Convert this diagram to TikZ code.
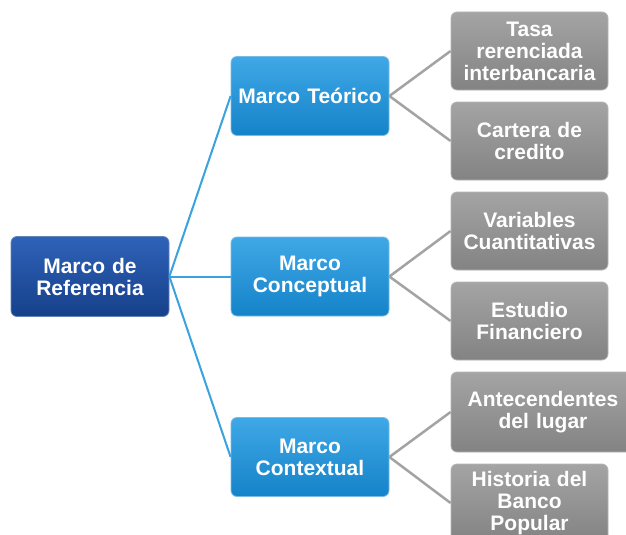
\documentclass[tikz,border=0pt]{standalone}
\usepackage{fontspec}
\setmainfont{Liberation Sans}
\definecolor{rootC}{HTML}{1F4F9E}
\definecolor{rootT}{HTML}{2F62B8}
\definecolor{rootB}{HTML}{16408A}
\definecolor{midC}{HTML}{1E8FD5}
\definecolor{midT}{HTML}{3FA8E6}
\definecolor{midB}{HTML}{1583C9}
\definecolor{leafT}{HTML}{A4A4A4}
\definecolor{leafB}{HTML}{838383}
\definecolor{blueLink}{HTML}{3AA2DE}
\definecolor{grayLink}{HTML}{A3A3A3}
\tikzset{
  basebox/.style={rectangle, rounded corners=6pt, align=center, text=white,
    font=\bfseries\fontsize{21}{22}\selectfont, inner sep=0pt, line width=0.8pt},
  rootbox/.style={basebox, top color=rootT, bottom color=rootB, draw=rootC!70!white,
    minimum width=158pt, minimum height=80pt, text width=154pt},
  midbox/.style={basebox, top color=midT, bottom color=midB, draw=midC!60!white,
    minimum width=158pt, minimum height=79pt, text width=154pt},
  leafbox/.style={basebox, top color=leafT, bottom color=leafB, draw=leafB!60!white,
    minimum width=157pt, minimum height=78pt, text width=153pt},
  bluelink/.style={draw=blueLink, line width=2pt},
  graylink/.style={draw=grayLink, line width=2.5pt},
}
\begin{document}
\begin{tikzpicture}[x=1pt,y=-1pt]
\useasboundingbox (0,0) rectangle (626,535);
\clip (0,0) rectangle (626,535);
\fill[white] (0,0) rectangle (626,535);

\node[rootbox] (root) at (90,276.5) {Marco de\\Referencia};
\node[midbox] (teo) at (310,96) {Marco Teórico};
\node[midbox] (con) at (310,276.5) {Marco\\Conceptual};
\node[midbox] (ctx) at (310,457) {Marco\\Contextual};

\node[leafbox] (tasa) at (529.5,51) {Tasa\\rerenciada\\interbancaria};
\node[leafbox] (cart) at (529.5,141) {Cartera de\\credito};
\node[leafbox] (vari) at (529.5,231) {Variables\\Cuantitativas};
\node[leafbox] (estu) at (529.5,321) {Estudio\\Financiero};
\node[leafbox, minimum width=184pt, text width=180pt, minimum height=80pt] (ante) at (543,412) {Antecendentes\\del lugar};
\node[leafbox] (hist) at (529.5,503) {Historia del\\Banco\\Popular};

\draw[bluelink] (root.east) -- (teo.west);
\draw[bluelink] (root.east) -- (con.west);
\draw[bluelink] (root.east) -- (ctx.west);
\draw[graylink] (teo.east) -- (tasa.west);
\draw[graylink] (teo.east) -- (cart.west);
\draw[graylink] (con.east) -- (vari.west);
\draw[graylink] (con.east) -- (estu.west);
\draw[graylink] (ctx.east) -- (ante.west);
\draw[graylink] (ctx.east) -- (hist.west);
\end{tikzpicture}
\end{document}
